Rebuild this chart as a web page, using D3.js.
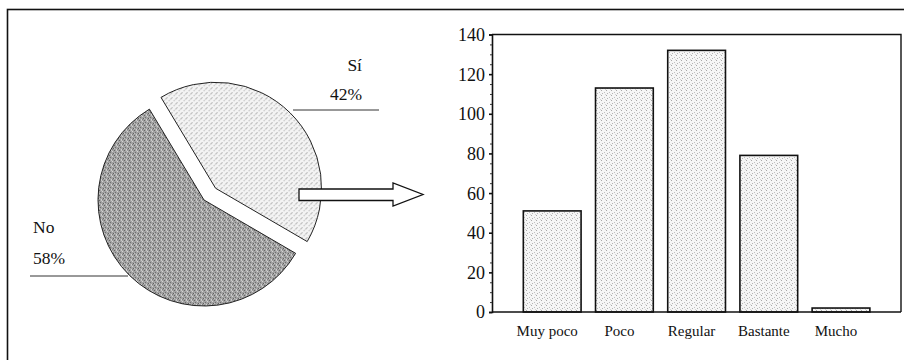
<!DOCTYPE html>
<html><head><meta charset="utf-8">
<script src="https://cdn.jsdelivr.net/npm/d3@7"></script>
<style>html,body{margin:0;padding:0;background:#fff;}svg{display:block;}</style>
</head><body>
<svg id="c" width="904" height="360"></svg>
<script>
// ---- data ----
const pieLabels = ["Sí", "No"];
const pieValues = [42, 58];
const categories = ["Muy poco", "Poco", "Regular", "Bastante", "Mucho"];
const barValues = [51, 113, 132, 79, 2];
const yTicks = [0, 20, 40, 60, 80, 100, 120, 140];

const svg = d3.select("#c");
const defs = svg.append("defs");
const serif = "'Liberation Serif', 'Times New Roman', serif";

// textures (deterministic dot tiles)
function tile(id, size, base, dots) {
  const p = defs.append("pattern").attr("id", id).attr("patternUnits", "userSpaceOnUse")
    .attr("width", size).attr("height", size);
  p.append("rect").attr("width", size).attr("height", size).attr("fill", base);
  dots.forEach(d => p.append("rect").attr("x", d[0]).attr("y", d[1]).attr("width", 1).attr("height", 1).attr("fill", d[2]));
}
tile("dark", 5, "#a2a2a2", [[0,0,"#666"],[3,1,"#d4d4d4"],[1,2,"#707070"],[4,3,"#606060"],[2,4,"#d2d2d2"],[0,3,"#c4c4c4"],[3,4,"#808080"],[2,0,"#c8c8c8"]]);
tile("light", 5, "#f4f4f4", [[0,0,"#9a9a9a"],[3,2,"#b0b0b0"],[1,4,"#a0a0a0"],[4,1,"#d0d0d0"]]);
tile("bar", 5, "#f6f6f6", [[1,0,"#a8a8a8"],[4,2,"#c0c0c0"],[2,3,"#b4b4b4"],[0,4,"#d4d4d4"]]);

// outer frame
svg.append("rect").attr("x", 7.5).attr("y", 9.5).attr("width", 920).attr("height", 400)
  .attr("fill", "none").attr("stroke", "#111").attr("stroke-width", 1.6);

// ---- pie ----
const cx = 204, cy = 200, R = 106;
const pie = d3.pie().sort(null).startAngle(-31 * Math.PI / 180).endAngle((360 - 31) * Math.PI / 180);
const arcs = pie(pieValues);
const arc = d3.arc().innerRadius(0).outerRadius(R);
const explode = [16.5, 0];
const fills = ["url(#light)", "url(#dark)"];
const gPie = svg.append("g").attr("transform", `translate(${cx},${cy})`);
gPie.selectAll("path").data(arcs).join("path")
  .attr("d", arc)
  .attr("transform", (d, i) => {
    const a = (d.startAngle + d.endAngle) / 2;
    return `translate(${explode[i] * Math.sin(a)},${-explode[i] * Math.cos(a)})`;
  })
  .attr("fill", (d, i) => fills[i])
  .attr("stroke", "#222").attr("stroke-width", 1);

// pie labels and leaders
svg.append("line").attr("x1", 293).attr("x2", 379).attr("y1", 110).attr("y2", 110).attr("stroke", "#333").attr("stroke-width", 1);
svg.append("line").attr("x1", 30).attr("x2", 128).attr("y1", 276).attr("y2", 276).attr("stroke", "#333").attr("stroke-width", 1);
const pl = svg.append("g").attr("font-family", serif).attr("font-size", 17.5).attr("fill", "#111");
pl.append("text").attr("x", 362).attr("y", 71).attr("text-anchor", "end").text(pieLabels[0]);
pl.append("text").attr("x", 362).attr("y", 99.5).attr("text-anchor", "end").text(pieValues[0] + "%");
pl.append("text").attr("x", 33).attr("y", 233).text(pieLabels[1]);
pl.append("text").attr("x", 33).attr("y", 264).text(pieValues[1] + "%");

// arrow
svg.append("path")
  .attr("d", "M299,189 L393,189 L393,183 L423,194.5 L393,206 L393,200.5 L299,200.5 Z")
  .attr("fill", "#fff").attr("stroke", "#111").attr("stroke-width", 1.3);

// ---- bar chart ----
const x0 = 492, x1 = 901, yTop = 34.5, yBot = 312;
const y = d3.scaleLinear().domain([0, 140]).range([yBot, yTop]);
const x = d3.scaleBand().domain(categories).range([516.1, 877.1]).paddingInner(0.2).paddingOuter(0.1);

svg.append("g").selectAll("rect").data(barValues).join("rect")
  .attr("x", (d, i) => x(categories[i]))
  .attr("width", x.bandwidth())
  .attr("y", d => y(d))
  .attr("height", d => yBot - y(d))
  .attr("fill", "url(#bar)")
  .attr("stroke", "#111").attr("stroke-width", 1.6);

// frame top/right
svg.append("path").attr("d", `M${x0},${yTop} L${x1},${yTop} L${x1},${yBot}`)
  .attr("fill", "none").attr("stroke", "#111").attr("stroke-width", 1.4);

// y axis
const yAxis = svg.append("g").attr("transform", `translate(${x0},0)`)
  .call(d3.axisLeft(y).tickValues(yTicks).tickSize(3).tickPadding(4).tickFormat(d3.format("d")));
yAxis.select(".domain").attr("stroke", "#111").attr("stroke-width", 1.6);
yAxis.selectAll(".tick line").attr("stroke", "#111").attr("stroke-width", 1.6);
yAxis.selectAll("text").attr("font-family", serif).attr("font-size", 18).attr("fill", "#111").attr("dy", "0.33em");
// minor ticks
svg.append("g").attr("transform", `translate(${x0},0)`)
  .call(d3.axisLeft(y).tickValues(d3.range(5, 140, 5).filter(v => v % 20 !== 0)).tickSize(2).tickFormat(""))
  .call(g => g.select(".domain").remove())
  .selectAll(".tick line").attr("stroke", "#333").attr("stroke-width", 1);

// x axis
const xAxis = svg.append("g").attr("transform", `translate(0,${yBot})`)
  .call(d3.axisBottom(x).tickSize(0).tickPadding(0));
xAxis.select(".domain").remove();
svg.append("line").attr("x1", x0).attr("x2", x1).attr("y1", yBot).attr("y2", yBot).attr("stroke", "#111").attr("stroke-width", 1.6);
xAxis.selectAll("text").attr("font-family", serif).attr("font-size", 15).attr("fill", "#111")
  .attr("dy", null).attr("y", 24).attr("dx", -5);
</script>
</body></html>
